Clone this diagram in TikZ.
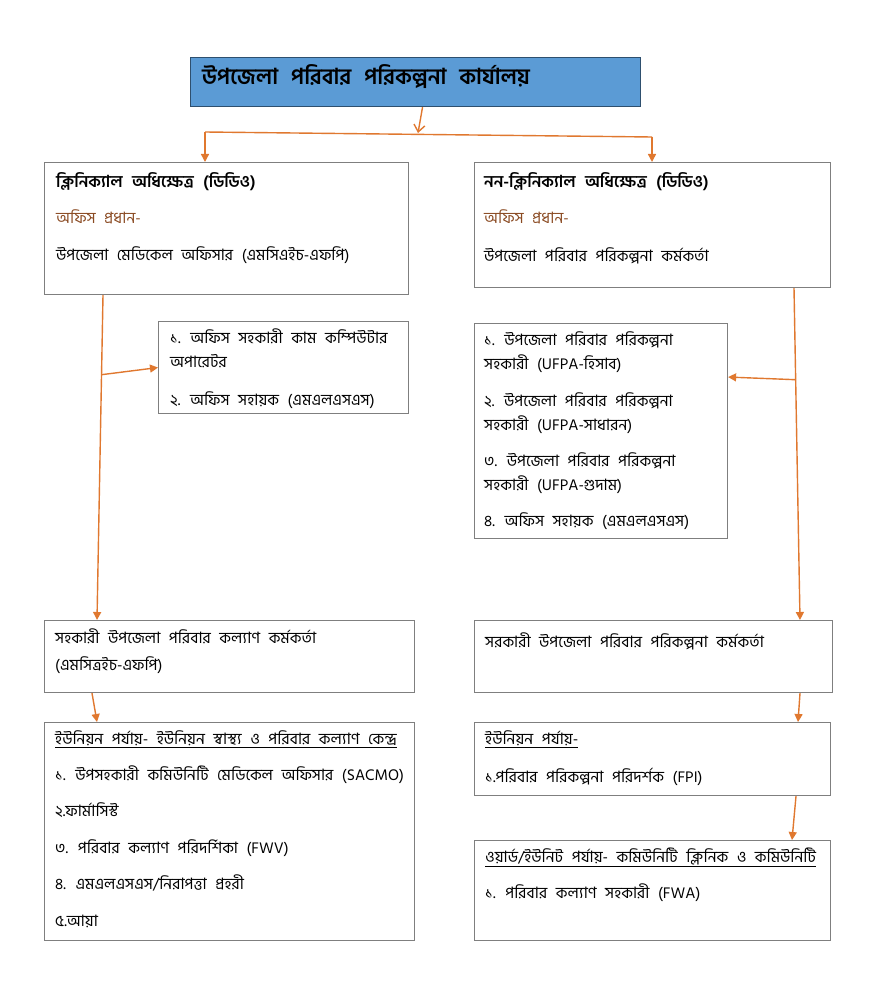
\documentclass[tikz,border=0pt]{standalone}
\usepackage{fontspec}
\setmainfont[Script=Bengali,WordSpace=2.4]{Hind Siliguri}
\usetikzlibrary{arrows.meta,positioning,calc}
\definecolor{upblue}{HTML}{5B9BD5}
\definecolor{upnavy}{HTML}{2E4F6E}
\definecolor{uporange}{HTML}{E0782F}
\definecolor{upgray}{HTML}{7F7F7F}
\definecolor{upbrown}{HTML}{8A4A22}
\tikzset{
  box/.style={draw=upgray,line width=1.1pt,anchor=north west,inner sep=0pt},
  titlebox/.style={box,draw=upnavy,fill=upblue},
  txt/.style={anchor=north west,inner sep=0pt,align=left,
              font=\fontsize{15.7}{24}\selectfont,text=black,
              execute at begin node={\rule{0pt}{18pt}}},
  wire/.style={draw=uporange,line width=1.4pt},
  link/.style={wire,-{Triangle[length=8pt,width=8pt]}},
  barb/.style={wire,-{Straight Barb[length=7pt,width=11pt]}},
}
\newcommand{\boss}[1]{\textcolor{upbrown}{#1}}
\newcommand{\headline}[1]{{\fontsize{16.5}{24}\selectfont\bfseries #1}}

\begin{document}
\begin{tikzpicture}[x=1pt,y=-1pt]
  \useasboundingbox (0,0) rectangle (874,1000);

  % ---------- office ----------
  \node[titlebox,minimum width=450pt,minimum height=49pt] (office) at (190,57) {};
  \node[anchor=base west,inner sep=0pt,font=\fontsize{22}{24}\selectfont\bfseries]
    (officetxt) at (202,85) {উপজেলা পরিবার পরিকল্পনা কার্যালয়};

  % ---------- clinical side ----------
  \node[box,minimum width=364pt,minimum height=132pt] (clin) at (44,162) {};
  \node[txt] (clintxt) at (56,172)
    {\headline{ক্লিনিক্যাল অধিক্ষেত্র (ডিডিও)}\\[12pt]
     \boss{অফিস প্রধান-}\\[13pt]
     উপজেলা মেডিকেল অফিসার (এমসিএইচ-এফপি)};

  \node[box,minimum width=250pt,minimum height=92pt] (clinstaff) at (158,321) {};
  \node[txt] (clinstafftxt) at (170,329)
    {১. অফিস সহকারী কাম কম্পিউটার\\
     অপারেটর\\[14pt]
     ২. অফিস সহায়ক (এমএলএসএস)};

  \node[box,minimum width=370pt,minimum height=72pt] (afwo) at (44,620) {};
  \node[txt] (afwotxt) at (55,629)
    {সহকারী উপজেলা পরিবার কল্যাণ কর্মকর্তা\\[3pt]
     (এমসিত্রইচ-এফপি)};

  \node[box,minimum width=370pt,minimum height=218pt] (unionL) at (44,722) {};
  \node[txt] (unionLtxt) at (55,730)
    {\underline{ইউনিয়ন পর্যায়- ইউনিয়ন স্বাস্থ্য ও পরিবার কল্যাণ কেন্দ্র}\\[12.4pt]
     ১. উপসহকারী কমিউনিটি মেডিকেল অফিসার (SACMO)\\[12.4pt]
     ২.ফার্মাসিস্ট\\[12.4pt]
     ৩. পরিবার কল্যাণ পরিদর্শিকা (FWV)\\[12.4pt]
     ৪. এমএলএসএস/নিরাপত্তা প্রহরী\\[12.4pt]
     ৫.আয়া};

  % ---------- non-clinical side ----------
  \node[box,minimum width=356pt,minimum height=125pt] (nonclin) at (474,162) {};
  \node[txt] (nonclintxt) at (484,172)
    {\headline{নন-ক্লিনিক্যাল অধিক্ষেত্র (ডিডিও)}\\[12pt]
     \boss{অফিস প্রধান-}\\[14pt]
     উপজেলা পরিবার পরিকল্পনা কর্মকর্তা};

  \node[box,minimum width=253pt,minimum height=215pt] (ncstaff) at (474,323) {};
  \node[txt] (ncstafftxt) at (484,331)
    {১. উপজেলা পরিবার পরিকল্পনা\\
     সহকারী (UFPA-হিসাব)\\[13pt]
     ২. উপজেলা পরিবার পরিকল্পনা\\
     সহকারী (UFPA-সাধারন)\\[12pt]
     ৩. উপজেলা পরিবার পরিকল্পনা\\
     সহকারী (UFPA-গুদাম)\\[12pt]
     ৪. অফিস সহায়ক (এমএলএসএস)};

  \node[box,minimum width=358pt,minimum height=72pt] (aufpo) at (474,620) {};
  \node[txt] (aufpotxt) at (485,629)
    {সরকারী উপজেলা পরিবার পরিকল্পনা কর্মকর্তা};

  \node[box,minimum width=356pt,minimum height=73pt] (unionR) at (474,722) {};
  \node[txt] (unionRtxt) at (485,730)
    {\underline{ইউনিয়ন পর্যায়-}\\[14pt]
     ১.পরিবার পরিকল্পনা পরিদর্শক (FPI)};

  \node[box,minimum width=356pt,minimum height=100pt] (ward) at (474,840) {};
  \node[txt] (wardtxt) at (485,848)
    {\underline{ওয়ার্ড/ইউনিট পর্যায়- কমিউনিটি ক্লিনিক ও কমিউনিটি}\\[12pt]
     ১. পরিবার কল্যাণ সহকারী (FWA)};

  % ---------- connectors ----------
  \coordinate (split) at (418,133);
  \coordinate (forkL) at (205,132);
  \coordinate (forkR) at (652,137);
  \draw[barb] ([xshift=7]office.south) -- (split);
  \draw[wire] (forkL) -- (forkR);
  \draw[link] (forkL) -- (forkL |- clin.north);
  \draw[link] (forkR) -- (forkR |- nonclin.north);

  % left trunk
  \coordinate (ltop) at ([xshift=59]clin.south west);
  \coordinate (lend) at ([xshift=53]afwo.north west);
  \coordinate (lbr) at ($(ltop)!0.245!(lend)$);
  \draw[link] (ltop) -- (lend);
  \draw[link] (lbr) -- (clinstaff.west);
  \draw[link] ([xshift=48]afwo.south west) -- ([xshift=53]unionL.north west);

  % right trunk
  \coordinate (rtop) at ([xshift=320]nonclin.south west);
  \coordinate (rend) at ([xshift=326]aufpo.north west);
  \coordinate (rbr) at ($(rtop)!0.276!(rend)$);
  \draw[link] (rtop) -- (rend);
  \draw[link] (rbr) -- ([yshift=54]ncstaff.east);
  \draw[link] ([xshift=326]aufpo.south west) -- ([xshift=324]unionR.north west);
  \draw[link] ([xshift=322]unionR.south west) -- ([xshift=318]ward.north west);
\end{tikzpicture}
\end{document}
